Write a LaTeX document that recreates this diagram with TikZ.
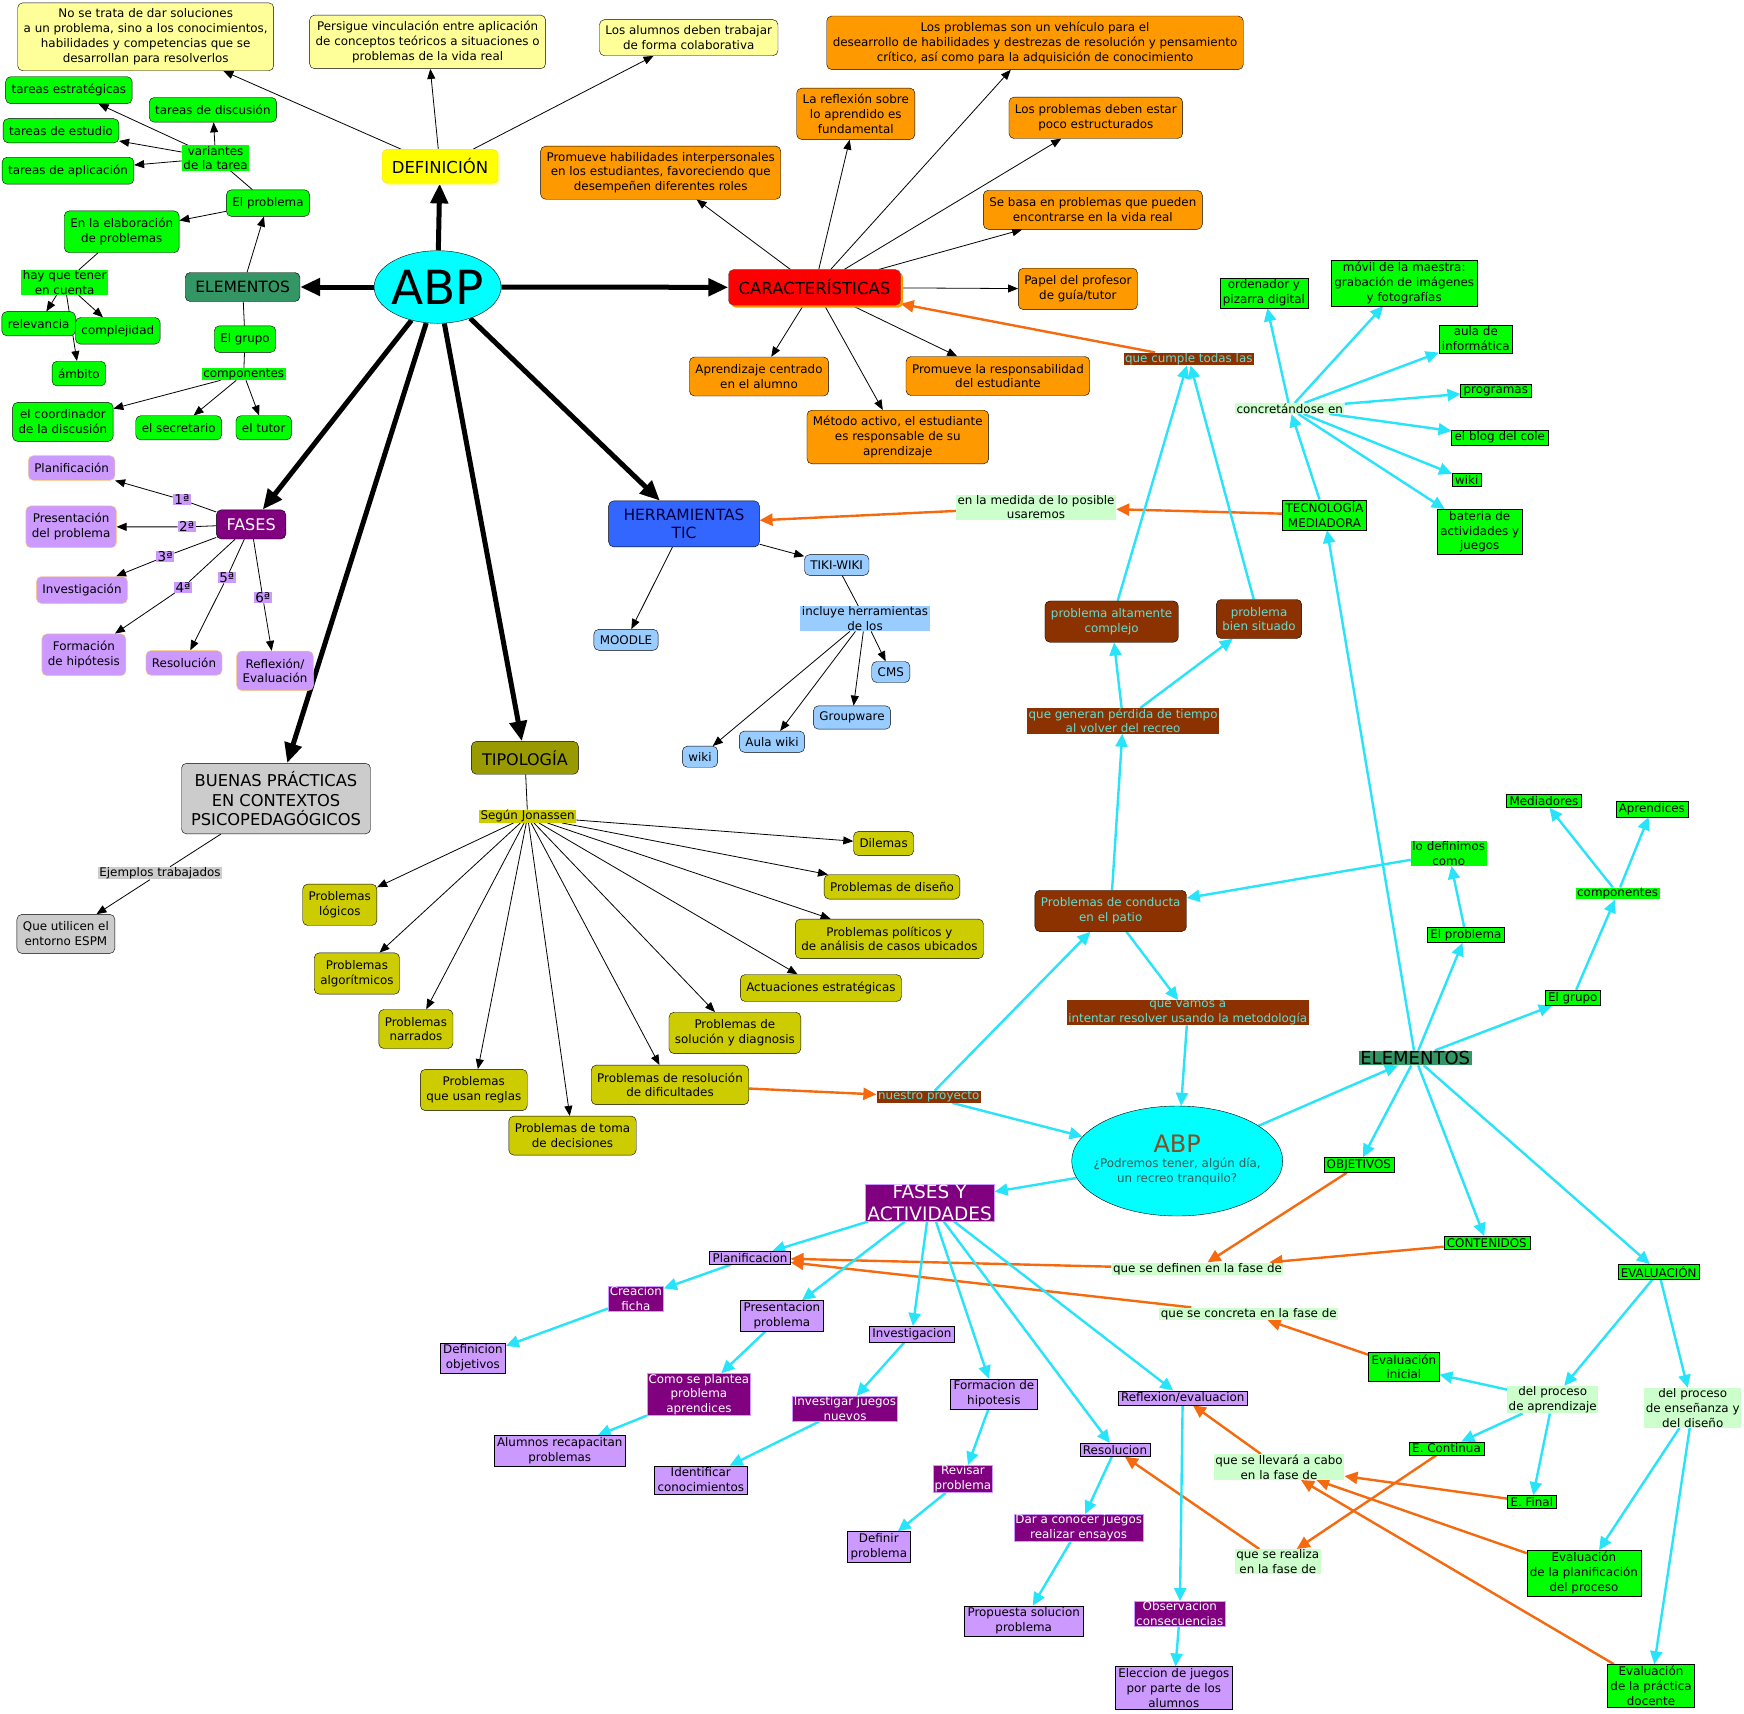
\documentclass[tikz,border=0pt]{standalone}
\usepackage{fontspec}
\setmainfont{DejaVu Sans}
\usetikzlibrary{arrows.meta,shapes.geometric,shadows}
\definecolor{MapGreen}{RGB}{0,255,0}
\definecolor{PaleYellow}{RGB}{255,255,153}
\definecolor{DefYellow}{RGB}{255,255,0}
\definecolor{CarRed}{RGB}{255,0,0}
\definecolor{CarOrange}{RGB}{255,153,0}
\definecolor{ElemGreen}{RGB}{51,150,100}
\definecolor{Lilac}{RGB}{204,153,255}
\definecolor{LilacEdge}{RGB}{255,204,102}
\definecolor{Plum}{RGB}{128,0,128}
\definecolor{Olive}{RGB}{153,153,0}
\definecolor{Mustard}{RGB}{204,204,0}
\definecolor{Grey}{RGB}{204,204,204}
\definecolor{TicBlue}{RGB}{51,102,255}
\definecolor{TicText}{RGB}{0,0,60}
\definecolor{SkyBlue}{RGB}{153,204,255}
\definecolor{Brick}{RGB}{140,50,0}
\definecolor{TealText}{RGB}{100,220,210}
\definecolor{Mint}{RGB}{204,255,204}
\definecolor{Aqua}{RGB}{0,255,255}
\definecolor{AbpBrown}{RGB}{128,80,40}
\definecolor{AbpSub}{RGB}{60,90,85}
\definecolor{LinkCyan}{RGB}{40,228,250}
\definecolor{LinkOrange}{RGB}{245,105,15}
\newcommand{\nf}{\fontsize{11.9}{14.8}\selectfont}
\pgfdeclarelayer{bg}
\pgfsetlayers{bg,main}
\tikzset{
  concept/.style={draw=black, rounded corners=5pt, align=center, font=\nf, inner xsep=6pt, inner ysep=7.5pt},
  sqbox/.style={draw=black, align=center, font=\nf, inner xsep=3pt, inner ysep=2pt},
  linkw/.style={align=center, font=\nf, inner xsep=1.5pt, inner ysep=0.5pt},
  ordinal/.style={linkw, fill=Lilac, font=\fontsize{13.5}{15}\selectfont},
  plumlink/.style={linkw, fill=Plum, text=white, draw=Lilac, line width=0.5pt},
  brlink/.style={linkw, fill=Brick, text=TealText},
  bigarrow/.style={line width=5pt, -{Triangle[length=20pt,width=17pt]}},
  arr/.style={line width=0.8pt, -{Triangle[length=10pt,width=8pt]}},
  seg/.style={line width=0.8pt},
  cyanarr/.style={LinkCyan, line width=2.4pt, -{Triangle[length=13pt,width=12pt]}},
  orangearr/.style={LinkOrange, line width=2.4pt, -{Triangle[length=13pt,width=12pt]}},
}

\begin{document}
\begin{tikzpicture}[x=1pt,y=-1pt,>=Latex]
\useasboundingbox (0,0) rectangle (1744,1713);
% ABP, parte superior
\node[ellipse, draw=black, fill=Aqua, minimum width=127pt, minimum height=72.6pt] (abp) at (437.6,287) {};
\node[font=\fontsize{47}{50}\selectfont] at (abp) {ABP};
\node[concept, fill=PaleYellow, inner ysep=6pt] (trata) at (145.7,36.8) {No se trata de dar soluciones\\a un problema, sino a los conocimientos,\\habilidades y competencias que se\\desarrollan para resolverlos};
\node[concept, fill=PaleYellow, inner ysep=6pt] (persigue) at (427.6,41.9) {Persigue vinculación entre aplicación\\de conceptos teóricos a situaciones o\\problemas de la vida real};
\node[concept, fill=PaleYellow, inner ysep=6pt] (colab) at (688.7,37.7) {Los alumnos deben trabajar\\de forma colaborativa};
\node[concept, fill=DefYellow, draw=LilacEdge, font=\fontsize{16.5}{19}\selectfont, minimum width=116pt, minimum height=33.8pt,
  drop shadow={fill=DefYellow!40, shadow xshift=2pt, shadow yshift=-2pt, opacity=1}] (def) at (440,166.3) {DEFINICIÓN};
\node[concept, fill=ElemGreen, font=\fontsize{15.5}{18}\selectfont, minimum width=114.7pt, minimum height=29pt] (elem) at (242.6,287) {ELEMENTOS};
\node[concept, fill=MapGreen] (prob) at (268,203.1) {El problema};
\node[linkw, fill=MapGreen] (var) at (215.6,158) {variantes\\de la tarea};
\node[concept, fill=MapGreen] (estr) at (68.9,90.2) {tareas estratégicas};
\node[concept, fill=MapGreen] (disc) at (212.9,109.8) {tareas de discusión};
\node[concept, fill=MapGreen] (estu) at (61,130.8) {tareas de estudio};
\node[concept, fill=MapGreen] (apli) at (68,170.7) {tareas de aplicación};
\node[concept, fill=MapGreen] (elab) at (121.7,231.8) {En la elaboración\\de problemas};
\node[linkw, fill=MapGreen] (tener) at (64.6,282.5) {hay que tener\\en cuenta};
\node[concept, fill=MapGreen] (relev) at (38.6,323.7) {relevancia};
\node[concept, fill=MapGreen] (compl) at (117.8,330.8) {complejidad};
\node[concept, fill=MapGreen] (ambito) at (78.9,373.6) {ámbito};
\node[concept, fill=MapGreen] (grupo) at (245,339.1) {El grupo};
\node[linkw, fill=MapGreen] (comp) at (243.7,374.2) {componentes};
\node[concept, fill=MapGreen] (coord) at (62.9,421.9) {el coordinador\\de la discusión};
\node[concept, fill=MapGreen] (secr) at (178.7,427.8) {el secretario};
\node[concept, fill=MapGreen] (tutor) at (263.7,427.8) {el tutor};
\node[concept, fill=Plum, text=white, font=\fontsize{16}{19}\selectfont, minimum width=69.4pt, minimum height=29.2pt] (fases) at (251.1,524.4) {FASES};
\node[concept, fill=Lilac, draw=LilacEdge] (pl1) at (71.6,468) {Planificación};
\node[concept, fill=Lilac, draw=LilacEdge] (pres1) at (71.1,526.8) {Presentación\\del problema};
\node[concept, fill=Lilac, draw=LilacEdge] (inv1) at (82,590) {Investigación};
\node[concept, fill=Lilac, draw=LilacEdge] (hip1) at (83.9,654.8) {Formación\\de hipótesis};
\node[concept, fill=Lilac, draw=LilacEdge] (res1) at (184,662.9) {Resolución};
\node[concept, fill=Lilac, draw=LilacEdge] (ref1) at (275,670.8) {Reflexión/\\Evaluación};
\node[ordinal] (o1) at (181.9,499.7) {1ª};
\node[ordinal] (o2) at (186.7,526.9) {2ª};
\node[ordinal] (o3) at (165.2,556.5) {3ª};
\node[ordinal] (o4) at (183,587.4) {4ª};
\node[ordinal] (o5) at (226.8,577.6) {5ª};
\node[ordinal] (o6) at (262.8,597.6) {6ª};
\node[concept, fill=Grey, font=\fontsize{16.3}{19.9}\selectfont, minimum width=189pt, minimum height=70.6pt] (buenas) at (276,798.6) {BUENAS PRÁCTICAS\\EN CONTEXTOS\\PSICOPEDAGÓGICOS};
\node[linkw, fill=Grey] (ejem) at (160,873.2) {Ejemplos trabajados};
\node[concept, fill=Grey] (espm) at (65.9,933.9) {Que utilicen el\\entorno ESPM};
\node[concept, fill=Olive, font=\fontsize{16}{19}\selectfont, minimum width=107pt, minimum height=32.8pt] (tipo) at (524.9,757.8) {TIPOLOGÍA};
\node[linkw, fill=Mustard] (jon) at (527.6,816.3) {Según Jonassen};
\node[concept, fill=Mustard] (plog) at (339.8,904.8) {Problemas\\lógicos};
\node[concept, fill=Mustard] (palg) at (356.9,973.5) {Problemas\\algorítmicos};
\node[concept, fill=Mustard] (pnar) at (415.9,1029) {Problemas\\narrados};
\node[concept, fill=Mustard] (preg) at (473.8,1090) {Problemas\\que usan reglas};
\node[concept, fill=Mustard] (ptoma) at (572.5,1135.6) {Problemas de toma\\de decisiones};
\node[concept, fill=Mustard] (pdif) at (670,1084.9) {Problemas de resolución\\de dificultades};
\node[concept, fill=Mustard] (pdiag) at (734.9,1032.9) {Problemas de\\solución y diagnosis};
\node[concept, fill=Mustard] (pact) at (820.9,988) {Actuaciones estratégicas};
\node[concept, fill=Mustard] (ppol) at (889.4,938.8) {Problemas políticos y\\de análisis de casos ubicados};
\node[concept, fill=Mustard] (pdis) at (892,886.9) {Problemas de diseño};
\node[concept, fill=Mustard] (pdil) at (883.6,843.5) {Dilemas};
\node[concept, fill=CarRed, draw=black!70, font=\fontsize{16.5}{19}\selectfont, minimum width=172pt, minimum height=35.6pt,
  drop shadow={fill=CarOrange, shadow xshift=2.5pt, shadow yshift=-2.5pt, opacity=1}] (car) at (814.5,287.4) {CARACTERÍSTICAS};
\node[concept, fill=CarOrange, inner ysep=6pt] (hab) at (660.7,172.7) {Promueve habilidades interpersonales\\en los estudiantes, favoreciendo que\\desempeñen diferentes roles};
\node[concept, fill=CarOrange, inner ysep=6pt] (refl) at (855.8,113.8) {La reflexión sobre\\lo aprendido es\\fundamental};
\node[concept, fill=CarOrange, inner ysep=6pt] (vehi) at (1035,42.8) {Los problemas son un vehículo para el\\desearrollo de habilidades y destrezas de resolución y pensamiento\\crítico, así como para la adquisición de conocimiento};
\node[concept, fill=CarOrange] (estruc) at (1095.8,117.8) {Los problemas deben estar\\poco estructurados};
\node[concept, fill=CarOrange] (basa) at (1092.8,209.8) {Se basa en problemas que pueden\\encontrarse en la vida real};
\node[concept, fill=CarOrange] (papel) at (1077.9,288.9) {Papel del profesor\\de guía/tutor};
\node[concept, fill=CarOrange] (centr) at (759,376.5) {Aprendizaje centrado\\en el alumno};
\node[concept, fill=CarOrange] (resp) at (997.9,376) {Promueve la responsabilidad\\del estudiante};
\node[concept, fill=CarOrange, inner ysep=6pt] (metodo) at (897.8,437) {Método activo, el estudiante\\es responsable de su\\aprendizaje};
\node[concept, fill=TicBlue, text=TicText, font=\fontsize{15.5}{18.5}\selectfont, minimum width=150.7pt, minimum height=46pt] (tic) at (684,523.9) {HERRAMIENTAS\\TIC};
\node[concept, fill=SkyBlue, inner ysep=6pt] (moodle) at (626,639.8) {MOODLE};
\node[concept, fill=SkyBlue, inner ysep=6pt] (tiki) at (836.7,565) {TIKI-WIKI};
\node[linkw, fill=SkyBlue] (incl) at (865,618.7) {incluye herramientas\\de los};
\node[concept, fill=SkyBlue, inner ysep=6pt] (cms) at (890.8,672) {CMS};
\node[concept, fill=SkyBlue, inner ysep=6pt] (gw) at (852,717.5) {Groupware};
\node[concept, fill=SkyBlue, inner ysep=6pt] (aula) at (772,741.7) {Aula wiki};
\node[concept, fill=SkyBlue, inner ysep=6pt] (wk) at (700,756.7) {wiki};
% proyecto: recreo tranquilo
\node[linkw, fill=Mint] (medida) at (1036,507.1) {en la medida de lo posible\\usaremos};
\node[sqbox, fill=MapGreen] (tec) at (1324.5,514.8) {TECNOLOGÍA\\MEDIADORA};
\node[linkw, fill=Mint] (concr) at (1289.7,408.4) {concretándose en};
\node[sqbox, fill=MapGreen] (orden) at (1263.9,292.9) {ordenador y\\pizarra digital};
\node[sqbox, fill=MapGreen] (movil) at (1404.2,283.1) {móvil de la maestra:\\grabación de imágenes\\y fotografías};
\node[sqbox, fill=MapGreen] (aulainf) at (1475.8,338.7) {aula de\\informática};
\node[sqbox, fill=MapGreen] (progr) at (1495.8,391) {programas};
\node[sqbox, fill=MapGreen] (blog) at (1499.8,437.7) {el blog del cole};
\node[sqbox, fill=MapGreen] (wk2) at (1466.8,479.7) {wiki};
\node[sqbox, fill=MapGreen] (bat) at (1479.7,531.8) {bateria de\\actividades y\\juegos};
\node[brlink] (cumple) at (1188.8,358.9) {que cumple todas las};
\node[concept, fill=Brick, text=TealText] (alta) at (1111.6,621.6) {problema altamente\\complejo};
\node[concept, fill=Brick, text=TealText] (bien) at (1259,619) {problema\\bien situado};
\node[brlink] (generan) at (1123.1,720.8) {que generan pérdida de tiempo\\al volver del recreo};
\node[concept, fill=Brick, text=TealText] (conducta) at (1110.7,910.9) {Problemas de conducta\\en el patio};
\node[brlink] (vamos) at (1187.7,1012.7) {que vamos a\\intentar resolver usando la metodología};
\node[brlink] (nuestro) at (928.7,1096.8) {nuestro proyecto};
\node[ellipse, draw=black, fill=Aqua, minimum width=211pt, minimum height=110pt] (abp2) at (1177.2,1161) {};
\node[align=center, font=\nf, text=AbpSub] at (1177.2,1160) {{\color{AbpBrown}\fontsize{24}{26}\selectfont ABP}\\¿Podremos tener, algún día,\\un recreo tranquilo?};
\node[linkw, fill=ElemGreen, font=\fontsize{18}{20}\selectfont] (elem2) at (1415.2,1057.9) {ELEMENTOS};
\node[sqbox, fill=MapGreen] (prob2) at (1465.8,934.9) {El problema};
\node[linkw, fill=MapGreen] (defin) at (1448.7,853.3) {lo definimos\\como};
\node[sqbox, fill=MapGreen] (grupo2) at (1572.7,997.8) {El grupo};
\node[linkw, fill=MapGreen] (comp2) at (1617.6,893.5) {componentes};
\node[sqbox, fill=MapGreen] (medi) at (1544,801) {Mediadores};
\node[sqbox, fill=MapGreen] (apre) at (1651.8,809) {Aprendices};
\node[sqbox, fill=MapGreen] (obj) at (1358.8,1165) {OBJETIVOS};
\node[sqbox, fill=MapGreen] (cont) at (1486.8,1242.8) {CONTENIDOS};
\node[sqbox, fill=MapGreen] (eval) at (1658.7,1271.9) {EVALUACIÓN};
\node[linkw, fill=Mint] (definen) at (1197.5,1268.8) {que se definen en la fase de};
\node[linkw, fill=Mint] (concreta) at (1248.8,1313.8) {que se concreta en la fase de};
\node[sqbox, fill=MapGreen] (evini) at (1403.9,1366.9) {Evaluación\\inicial};
\node[linkw, fill=Mint] (apr) at (1552.7,1399.6) {del proceso\\de aprendizaje};
\node[linkw, fill=Mint] (ens) at (1692.7,1407.9) {del proceso\\de enseñanza y\\del diseño};
\node[sqbox, fill=MapGreen] (econt) at (1446.5,1448.4) {E. Continua};
\node[sqbox, fill=MapGreen] (efin) at (1531.8,1502) {E. Final};
\node[linkw, fill=Mint] (llevara) at (1279,1467) {que se llevará a cabo\\en la fase de};
\node[linkw, fill=Mint] (realiza) at (1277.8,1561.7) {que se realiza\\en la fase de};
\node[sqbox, fill=MapGreen] (evplan) at (1583.9,1573) {Evaluación\\de la planificación\\del proceso};
\node[sqbox, fill=MapGreen] (evdoc) at (1651,1686) {Evaluación\\de la práctica\\docente};
\node[sqbox, fill=Plum, draw=Lilac, text=white, font=\fontsize{18.5}{21.5}\selectfont, inner sep=1pt, minimum width=129.6pt] (fyact) at (929.6,1202.6) {FASES Y\\ACTIVIDADES};
\node[sqbox, fill=Lilac] (plan) at (750,1257.8) {Planificacion};
\node[plumlink] (ficha) at (635.9,1298.3) {Creacion\\ficha};
\node[sqbox, fill=Lilac] (defobj) at (472.9,1358) {Definicion\\objetivos};
\node[sqbox, fill=Lilac] (prespr) at (781.9,1315.7) {Presentacion\\problema};
\node[plumlink] (plantea) at (698.9,1394.5) {Como se plantea\\problema\\aprendices};
\node[sqbox, fill=Lilac] (recap) at (559.7,1450.8) {Alumnos recapacitan\\problemas};
\node[sqbox, fill=Lilac] (invest) at (911.8,1334) {Investigacion};
\node[plumlink] (invj) at (845,1408.8) {Investigar juegos\\nuevos};
\node[sqbox, fill=Lilac] (ident) at (700.8,1479.8) {Identificar\\conocimientos};
\node[sqbox, fill=Lilac] (formh) at (993.9,1394) {Formacion de\\hipotesis};
\node[plumlink] (revis) at (962.9,1478.9) {Revisar\\problema};
\node[sqbox, fill=Lilac] (definir) at (878.8,1546.8) {Definir\\problema};
\node[sqbox, fill=Lilac] (resol) at (1115,1449.8) {Resolucion};
\node[plumlink] (darcon) at (1078.7,1527.9) {Dar a conocer juegos\\realizar ensayos};
\node[sqbox, fill=Lilac] (propu) at (1023.7,1620.9) {Propuesta solucion\\problema};
\node[sqbox, fill=Lilac] (reflev) at (1182.7,1397.8) {Reflexion/evaluacion};
\node[plumlink] (observ) at (1179.8,1613.8) {Observacion\\consecuencias};
\node[sqbox, fill=Lilac] (elecc) at (1173.8,1688) {Eleccion de juegos\\por parte de los\\alumnos};

\begin{pgfonlayer}{bg}
\fill[white] (0,0) rectangle (1744,1713);
\foreach \t in {def,elem,car,fases,buenas,tipo,tic} \draw[bigarrow] (abp) -- (\t);
\foreach \t in {trata,persigue,colab} \draw[arr] (def) -- (\t);
\draw[arr] (elem) -- (prob);
\draw[seg] (prob) -- (var);
\foreach \t in {estr,disc,estu,apli} \draw[arr] (var) -- (\t);
\draw[arr] (prob) -- (elab);
\draw[seg] (elab) -- (tener);
\foreach \t in {relev,compl,ambito} \draw[arr] (tener) -- (\t);
\draw[seg] (elem) -- (grupo);
\draw[seg] (grupo) -- (comp);
\foreach \t in {coord,secr,tutor} \draw[arr] (comp) -- (\t);
\foreach \o/\t in {o1/pl1,o2/pres1,o3/inv1,o4/hip1,o5/res1,o6/ref1} {
  \draw[seg] (fases) -- (\o);
  \draw[arr] (\o) -- (\t);
}
\draw[seg] (buenas) -- (ejem);
\draw[arr] (ejem) -- (espm);
\draw[seg] (tipo) -- (jon);
\foreach \t in {plog,palg,pnar,preg,ptoma,pdif,pdiag,pact,ppol,pdis,pdil} \draw[arr] (jon) -- (\t);
\foreach \t in {hab,refl,vehi,estruc,basa,papel,centr,resp,metodo} \draw[arr] (car) -- (\t);
\draw[arr] (tic) -- (moodle);
\draw[arr] (tic) -- (tiki);
\draw[seg] (tiki) -- (incl);
\foreach \t in {cms,gw,aula,wk} \draw[arr] (incl) -- (\t);
% enlaces naranja
\draw[orangearr] (tec) -- (medida);
\draw[orangearr] (medida) -- (tic);
\draw[orangearr] (cumple) -- (car);
\draw[orangearr] (pdif) -- (nuestro);
\draw[orangearr] (obj) -- (definen);
\draw[orangearr] (cont) -- (definen);
\draw[orangearr] (definen) -- (plan);
\draw[orangearr] (evini) -- (concreta);
\draw[orangearr] (concreta) -- (plan);
\draw[orangearr] (llevara) -- (reflev);
\foreach \t in {efin,evplan,evdoc} \draw[orangearr] (\t) -- (llevara);
\draw[orangearr] (econt) -- (realiza);
\draw[orangearr] (realiza) -- (resol);
% enlaces cian
\draw[cyanarr] (tec) -- (concr);
\foreach \t in {orden,movil,aulainf,progr,blog,wk2,bat} \draw[cyanarr] (concr) -- (\t);
\draw[cyanarr] (elem2) -- (tec);
\draw[cyanarr] (alta) -- (cumple);
\draw[cyanarr] (bien) -- (cumple);
\draw[cyanarr] (conducta) -- (generan);
\draw[cyanarr] (generan) -- (alta);
\draw[cyanarr] (generan) -- (bien);
\draw[cyanarr] (conducta) -- (vamos);
\draw[cyanarr] (vamos) -- (abp2);
\draw[cyanarr] (nuestro) -- (conducta);
\draw[cyanarr] (nuestro) -- (abp2);
\draw[cyanarr] (abp2) -- (elem2);
\draw[cyanarr] (abp2) -- (fyact);
\draw[cyanarr] (elem2) -- (prob2);
\draw[cyanarr] (prob2) -- (defin);
\draw[cyanarr] (defin) -- (conducta);
\draw[cyanarr] (elem2) -- (grupo2);
\draw[cyanarr] (grupo2) -- (comp2);
\draw[cyanarr] (comp2) -- (medi);
\draw[cyanarr] (comp2) -- (apre);
\foreach \t in {obj,cont,eval} \draw[cyanarr] (elem2) -- (\t);
\draw[cyanarr] (eval) -- (apr);
\draw[cyanarr] (eval) -- (ens);
\foreach \t in {evini,econt,efin} \draw[cyanarr] (apr) -- (\t);
\draw[cyanarr] (ens) -- (evplan);
\draw[cyanarr] (ens) -- (evdoc);
\foreach \t in {plan,prespr,invest,formh,resol,reflev} \draw[cyanarr] (fyact) -- (\t);
\draw[cyanarr] (plan) -- (ficha);
\draw[cyanarr] (ficha) -- (defobj);
\draw[cyanarr] (prespr) -- (plantea);
\draw[cyanarr] (plantea) -- (recap);
\draw[cyanarr] (invest) -- (invj);
\draw[cyanarr] (invj) -- (ident);
\draw[cyanarr] (formh) -- (revis);
\draw[cyanarr] (revis) -- (definir);
\draw[cyanarr] (resol) -- (darcon);
\draw[cyanarr] (darcon) -- (propu);
\draw[cyanarr] (reflev) -- (observ);
\draw[cyanarr] (observ) -- (elecc);
\end{pgfonlayer}
\end{tikzpicture}
\end{document}
